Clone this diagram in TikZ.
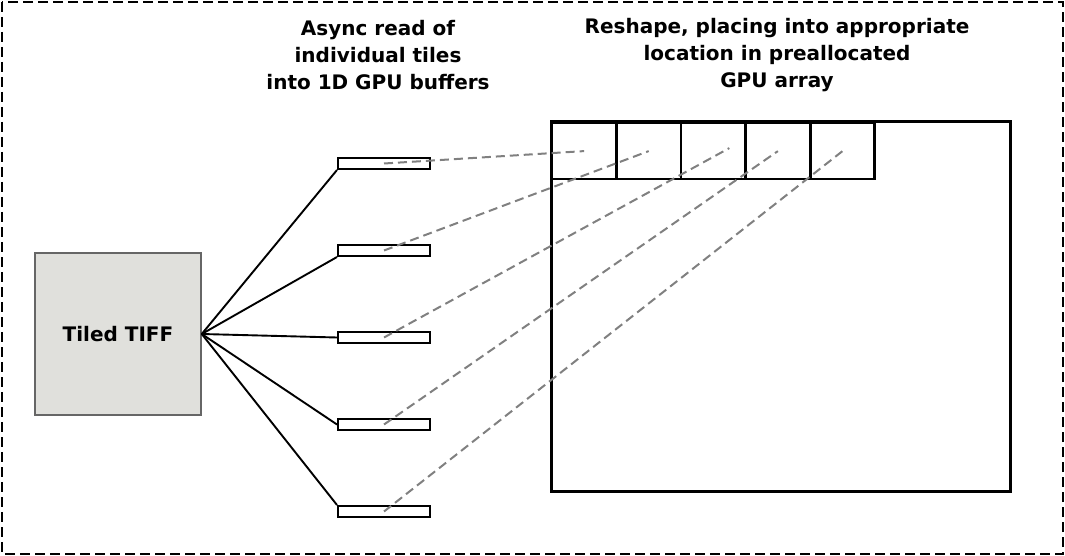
\documentclass[tikz,border=0pt]{standalone}
\usepackage{fontspec}
\setmainfont{DejaVu Sans}
\usetikzlibrary{positioning}

\definecolor{tiffgray}{RGB}{224,224,220}
\tikzset{
  buffer/.style={draw, line width=2pt, minimum width=92pt, minimum height=11pt, inner sep=0pt},
  tilebox/.style={draw, line width=2.2pt, minimum width=64pt, minimum height=56pt, inner sep=0pt, anchor=north west},
  readline/.style={line width=1.9pt},
  copyline/.style={draw=gray, line width=2pt, dash pattern=on 9pt off 5pt},
  title/.style={align=center, font=\fontsize{20}{27}\selectfont\bfseries}
}

\begin{document}
\begin{tikzpicture}[x=1pt, y=-1pt]
\useasboundingbox (0,0) rectangle (1065,556);
\draw[line width=2pt, dash pattern=on 10pt off 5pt] (2,2) rectangle (1063,554);

% source file
\node[draw=black!60, line width=1.5pt, fill=tiffgray, minimum width=166pt, minimum height=162pt,
  inner sep=0pt, font=\fontsize{20}{24}\selectfont\bfseries] (tiff) at (118,334) {Tiled TIFF};

% 1D buffers
\foreach \i/\y in {1/163.5, 2/250.5, 3/337.5, 4/424.5, 5/511.5}
  \node[buffer] (buf\i) at (384,\y) {};

\draw[readline] (tiff.east) -- (buf1.south west);
\draw[readline] (tiff.east) -- (buf2.south west);
\draw[readline] (tiff.east) -- (buf3.west);
\draw[readline] (tiff.east) -- (buf4.west);
\draw[readline] (tiff.east) -- (buf5.north west);

% preallocated array
\draw[line width=3pt] (551,122) rectangle (1010,491);
\foreach \i in {1,...,5}
  \node[tilebox] (tile\i) at ({551+64.6*(\i-1)},122) {};
\coordinate (end3) at ([shift={(16,-3)}]tile3.center);

\draw[copyline] (buf1.center) -- (tile1.center);
\draw[copyline] (buf2.center) -- (tile2.center);
\draw[copyline] (buf3.center) -- (end3);
\draw[copyline] (buf4.center) -- (tile4.center);
\draw[copyline] (buf5.center) -- (tile5.center);

% headings
\node[title] (readlbl) at (378,55) {Async read of\\individual tiles\\into 1D GPU buffers};
\node[title] (shapelbl) at (777,55) {Reshape, placing into appropriate\\location in preallocated\\GPU array};
\end{tikzpicture}
\end{document}
